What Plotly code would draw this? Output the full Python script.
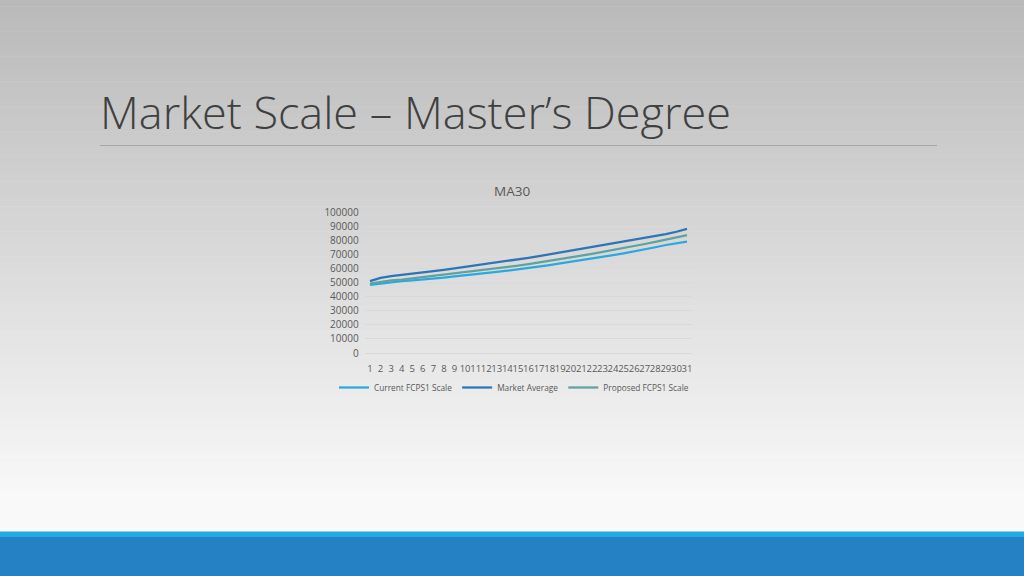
import plotly.graph_objects as go

steps = list(range(1, 32))
tick_labels = [str(s) for s in steps]

current_fcps1 = [48300, 49300, 50500, 51000, 51500, 52000, 52800, 53500, 54300, 55000,
                 55800, 56600, 57500, 58400, 59300, 60300, 61300, 62400, 63500, 64600,
                 65700, 66900, 68100, 69400, 70700, 72000, 73500, 75000, 76600, 78000, 79000]
market_average = [51000, 53300, 54500, 55300, 56300, 57200, 58000, 59000, 60000, 61000,
                  62000, 63000, 64000, 65000, 66300, 67500, 68700, 70000, 71200, 72500,
                  73800, 75000, 76200, 77500, 78800, 80000, 81300, 82700, 84300, 86000, 88000]
proposed_fcps1 = [49300, 50500, 51500, 52100, 53000, 53700, 54500, 55300, 56200, 57000,
                  57900, 58800, 59800, 60800, 61900, 63000, 64100, 65300, 66500, 67700,
                  69000, 70300, 71600, 73000, 74400, 75800, 77300, 78800, 80500, 82200, 83600]

series_names = ["Current FCPS1 Scale", "Market Average", "Proposed FCPS1 Scale"]
series_colors = ["#2aa9e0", "#2e75b6", "#5fa39e"]

W, H = 1024, 576

fig = go.Figure()
for name, vals, col in zip(series_names, [current_fcps1, market_average, proposed_fcps1], series_colors):
    fig.add_trace(go.Scatter(x=steps, y=vals, mode="lines", name=name,
                             line=dict(color=col, width=2.25)))

shapes = []
# vertical gradient background
n = 80
top = (185, 185, 185)
bot = (249, 249, 249)
gh = 500.0
for i in range(n):
    y0 = i * gh / n
    y1 = (i + 1) * gh / n + 0.6
    t = (i + 0.5) / n
    c = tuple(int(round(top[k] + (bot[k] - top[k]) * t)) for k in range(3))
    shapes.append(dict(type="rect", xref="paper", yref="paper", x0=0, x1=1,
                       y0=1 - y1 / H, y1=1 - y0 / H, line=dict(width=0),
                       fillcolor="rgb(%d,%d,%d)" % c, layer="below"))
# title underline
shapes.append(dict(type="line", xref="paper", yref="paper", x0=100 / W, x1=937 / W,
                   y0=1 - 145.5 / H, y1=1 - 145.5 / H, line=dict(color="#a6a6a6", width=1.2),
                   layer="below"))
# bottom bars
shapes.append(dict(type="rect", xref="paper", yref="paper", x0=0, x1=1,
                   y0=1 - 537 / H, y1=1 - 531.5 / H, line=dict(width=0),
                   fillcolor="#22aae2", layer="below"))
shapes.append(dict(type="rect", xref="paper", yref="paper", x0=0, x1=1,
                   y0=0, y1=1 - 537 / H, line=dict(width=0),
                   fillcolor="#2580c4", layer="below"))

annotations = [
    dict(text="Market Scale \u2013 Master\u2019s Degree", xref="paper", yref="paper",
         x=98 / W, y=1 - 111 / H, xanchor="left", yanchor="middle", showarrow=False,
         font=dict(family="Open Sans", size=45, color="#404040", weight=300)),
    dict(text="MA30", xref="paper", yref="paper", x=512 / W, y=1 - 191 / H,
         xanchor="center", yanchor="middle", showarrow=False,
         font=dict(family="Open Sans", size=13.5, color="#595959")),
]

fig.update_layout(
    width=W, height=H, autosize=False,
    margin=dict(l=0, r=0, t=0, b=0, pad=0, autoexpand=False),
    paper_bgcolor="#f9f9f9", plot_bgcolor="rgba(0,0,0,0)",
    shapes=shapes, annotations=annotations,
    showlegend=True,
    legend=dict(orientation="h", x=514 / W, xanchor="center", y=1 - 387.5 / H, yanchor="middle",
                font=dict(family="Open Sans", size=8.3, color="#595959"),
                bgcolor="rgba(0,0,0,0)", itemwidth=30, tracegroupgap=0),
    xaxis=dict(domain=[364.7 / W, 692.3 / W], range=[0.5, 31.5], tickmode="array",
               tickvals=steps, ticktext=tick_labels, tickangle=0, showgrid=False,
               zeroline=False, showline=False, ticks="", automargin=False,
               ticklabelstandoff=8,
               tickfont=dict(family="Open Sans", size=9.5, color="#595959")),
    yaxis=dict(domain=[1 - 353 / H, 1 - 212 / H], range=[0, 100000], tickmode="array",
               tickvals=list(range(0, 100001, 10000)),
               ticktext=[str(v) for v in range(0, 100001, 10000)],
               showgrid=True, gridcolor="#d9d9d9", gridwidth=0.75, zeroline=True,
               zerolinecolor="#d9d9d9", zerolinewidth=0.75, showline=False, ticks="",
               automargin=False, ticklabelstandoff=5,
               tickfont=dict(family="Open Sans", size=10, color="#595959")),
)

fig.write_html("out.html",
               config={"displayModeBar": False},
               post_script="document.body.style.margin='0';document.body.style.padding='0';"
                           "document.documentElement.style.margin='0';"
                           "var gd=document.getElementById('{plot_id}');"
                           "gd.style.position='fixed';gd.style.top='0px';gd.style.left='0px';")
